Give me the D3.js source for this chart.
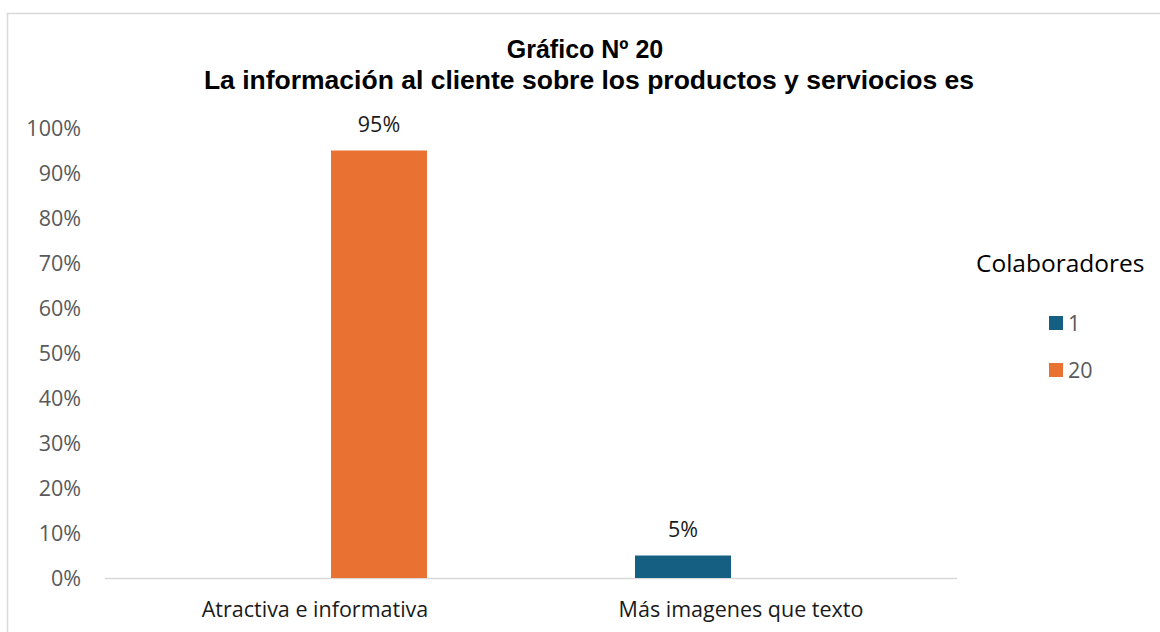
<!DOCTYPE html>
<html><head><meta charset="utf-8">
<script src="https://cdn.jsdelivr.net/npm/d3@7"></script>
<style>html,body{margin:0;padding:0;background:#fff;overflow:hidden}</style>
</head><body>
<svg id="c" width="1160" height="632"></svg>
<script>
const categories = ["Atractiva e informativa", "Más imagenes que texto"];
const seriesNames = ["1", "20"];
const seriesColors = ["#156082", "#E97132"];
// values per series, per category (null = no bar)
const series1 = [null, 0.05];
const series20 = [0.95, null];
const yTicks = [0, 0.1, 0.2, 0.3, 0.4, 0.5, 0.6, 0.7, 0.8, 0.9, 1.0];
const titleLines = ["Gráfico Nº 20", "La información al cliente sobre los productos y serviocios es"];
const legendTitle = "Colaboradores";

const seriesData = [series1, series20];
const svg = d3.select("#c");
const font = "'Open Sans', 'Noto Sans', sans-serif";

svg.append("rect").attr("x", 7.5).attr("y", 13.5).attr("width", 1200).attr("height", 700)
  .attr("fill", "#fff").attr("stroke", "#d9d9d9").attr("stroke-width", 1.5);

const x0 = d3.scaleBand().domain(categories).range([105, 957]).padding(0);
const x1 = d3.scaleBand().domain(seriesNames).range([104, 322]).paddingInner(26/122).paddingOuter(0);
const y = d3.scaleLinear().domain([0, 1]).range([578, 128]);

// title
svg.append("text").attr("x", 585).attr("y", 58).attr("text-anchor", "middle")
  .attr("font-family", "'Liberation Sans', Arial, sans-serif").attr("font-weight", "bold")
  .attr("font-size", 25).attr("fill", "#000").text(titleLines[0]);
svg.append("text").attr("x", 589).attr("y", 89).attr("text-anchor", "middle")
  .attr("font-family", "'Liberation Sans', Arial, sans-serif").attr("font-weight", "bold")
  .attr("font-size", 26.5).attr("fill", "#000").text(titleLines[1]);

// y axis
const yAxis = d3.axisLeft(y).tickValues(yTicks).tickFormat(d3.format(".0%")).tickSize(0).tickPadding(0);
const gy = svg.append("g").attr("transform", "translate(81,0)").call(yAxis);
gy.select(".domain").remove();
gy.selectAll("text").attr("font-family", font).attr("font-size", 21.5).attr("fill", "#595959").attr("dy", "0.35em");

// baseline
svg.append("line").attr("x1", 105).attr("x2", 957).attr("y1", y(0)+0.5).attr("y2", y(0)+0.5)
  .attr("stroke", "#d9d9d9").attr("stroke-width", 1.5);

// x axis labels
const xAxis = d3.axisBottom(x0).tickSize(0).tickPadding(0);
const gx = svg.append("g").attr("transform", `translate(0,${y(0)})`).call(xAxis);
gx.select(".domain").remove();
gx.selectAll("text").attr("font-family", font).attr("font-size", 21.5).attr("fill", "#1a1a1a")
  .attr("dy", null).attr("y", 39).attr("dx", -3);

// bars
seriesData.forEach((vals, si) => {
  categories.forEach((cat, ci) => {
    const v = vals[ci];
    if (v == null) return;
    const bx = x0(cat) + x1(seriesNames[si]);
    svg.append("rect").attr("x", bx).attr("y", y(v)).attr("width", x1.bandwidth())
      .attr("height", y(0) - y(v)).attr("fill", seriesColors[si]);
    svg.append("text").attr("x", bx + x1.bandwidth()/2).attr("y", y(v) - 19)
      .attr("text-anchor", "middle").attr("font-family", font).attr("font-size", 21.5)
      .attr("fill", "#1a1a1a").text(d3.format(".0%")(v));
  });
});

// legend
svg.append("text").attr("x", 976).attr("y", 272).attr("font-family", font).attr("font-size", 24.5)
  .attr("fill", "#000").text(legendTitle);
seriesNames.forEach((s, i) => {
  const ly = 316 + i * 47;
  svg.append("rect").attr("x", 1049).attr("y", ly).attr("width", 14).attr("height", 14).attr("fill", seriesColors[i]);
  svg.append("text").attr("x", 1068).attr("y", ly + 15).attr("font-family", font).attr("font-size", 21.5)
    .attr("fill", "#595959").text(s);
});
</script>
</body></html>
